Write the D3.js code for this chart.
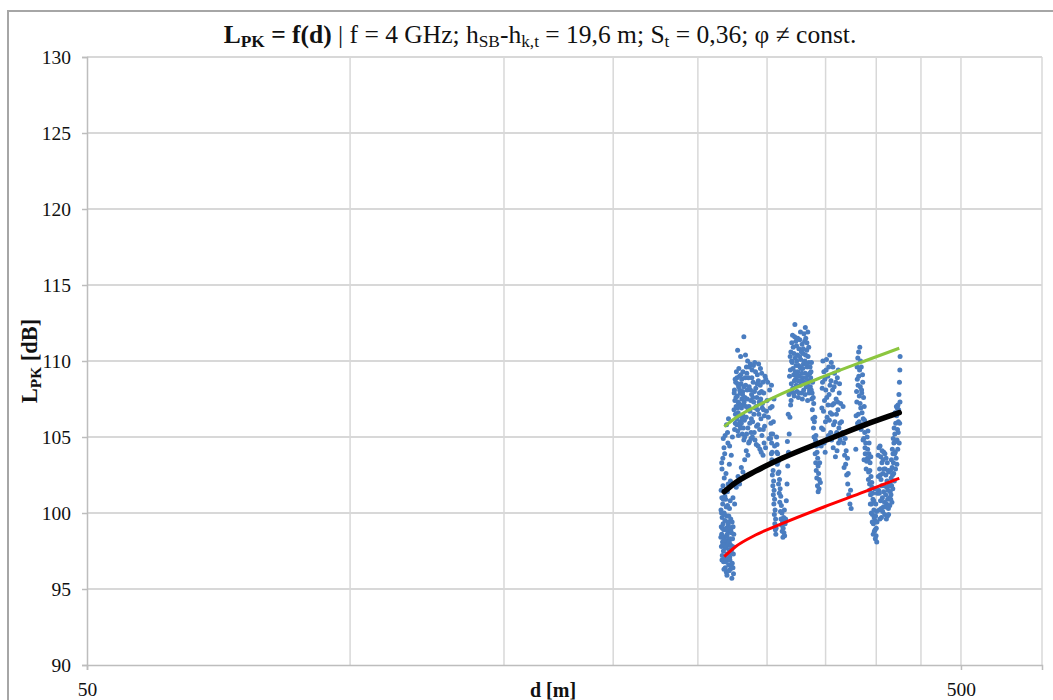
<!DOCTYPE html>
<html>
<head>
<meta charset="utf-8">
<script src="https://cdn.jsdelivr.net/npm/d3@7"></script>
<style>
  html, body { margin: 0; padding: 0; background: #fff; }
  svg { display: block; }
  text { font-family: "Liberation Serif", "Times New Roman", serif; fill: #111; }
</style>
</head>
<body>
<svg id="chart" width="1053" height="700"></svg>
<script>
// Axis settings
const xDomain = [50, 619];
const yDomain = [90, 130];
const yTicks = [90, 95, 100, 105, 110, 115, 120, 125, 130];
const xMajorTicks = [50, 500];
const xMinorTicks = [100, 150, 200, 250, 300, 350, 400, 450];

// Measured path loss samples [d (m), L_PK (dB)]
const measured = [
  // 266-275 m, low stripe
  [265.7,100.2],[265.9,99.1],[266.0,97.8],[266.2,98.6],[266.3,101.0],[266.5,99.7],[266.6,97.2],[266.8,98.1],
  [266.9,100.6],[267.1,101.8],[267.2,99.3],[267.4,97.5],[267.5,96.8],[267.7,98.9],[267.9,100.0],[268.0,102.3],
  [268.2,98.4],[268.3,97.0],[268.5,99.5],[268.7,96.4],[268.8,98.0],[269.0,100.9],[269.2,97.7],[269.3,99.0],
  [269.5,96.1],[269.7,98.5],[269.8,97.3],[270.0,99.8],[270.2,101.4],[270.4,98.2],[270.5,96.9],[270.7,97.9],
  [270.9,99.2],[271.1,96.6],[271.3,98.8],[271.5,97.6],[271.7,100.3],[271.9,97.1],[272.1,98.3],[272.3,96.3],
  [272.6,99.6],[272.8,97.4],[273.1,98.7],[273.4,95.7],[273.7,96.7],[274.0,97.8],[274.3,99.1],[274.6,96.0],
  [265.6,98.4],[265.8,101.5],[266.1,100.0],[266.4,96.9],[266.7,99.0],[267.0,97.9],[267.3,100.9],[267.6,98.2],
  [267.8,96.3],[268.1,99.9],[268.4,101.1],[268.6,97.7],[268.9,96.8],[269.1,98.9],[269.4,100.4],[269.6,97.0],
  [269.9,95.9],[270.1,98.6],[270.3,100.5],[270.6,99.4],[270.8,101.9],[271.0,97.3],[271.2,99.8],[271.4,96.2],
  [271.6,98.1],[271.8,99.0],[272.0,96.9],[272.2,100.8],[272.5,97.9],[272.7,98.9],[273.0,96.5],[273.3,97.6],
  [273.6,99.4],[273.9,98.3],[274.2,96.4],[274.5,97.3],[274.8,98.6],
  [266.4,102.9],[267.0,103.6],[267.8,104.3],[268.6,105.1],[269.6,105.8],[270.6,104.6],[271.6,103.2],
  [266.2,103.3],[267.3,104.9],[268.3,103.9],[269.2,102.6],[270.3,105.3],[271.0,106.2],[271.8,104.4],[272.4,102.1],
  [273.0,103.8],[273.8,105.0],
  // 275-284 m, upper cluster
  [275.0,106.8],[275.3,108.1],[275.6,107.4],[275.9,105.9],[276.2,108.6],[276.5,107.0],[276.8,106.2],[277.1,108.9],
  [277.4,107.7],[277.7,105.4],[278.0,106.6],[278.3,108.3],[278.6,107.2],[278.9,109.0],[279.2,106.0],[279.5,107.9],
  [279.8,105.6],[280.1,108.5],[280.4,106.9],[280.7,107.5],[281.0,105.2],[281.3,108.0],[281.6,106.4],[281.9,107.1],
  [282.2,104.8],[282.6,106.1],[283.0,107.6],
  [275.1,107.9],[275.4,105.5],[275.8,108.8],[276.0,106.5],[276.4,107.6],[276.7,109.3],[277.0,105.8],[277.3,106.9],
  [277.6,108.5],[277.9,107.3],[278.2,105.1],[278.5,109.5],[278.8,106.4],[279.1,108.1],[279.4,105.7],[279.7,107.1],
  [280.0,109.1],[280.3,105.9],[280.6,108.8],[280.9,106.2],[281.2,107.8],[281.5,109.3],[281.8,105.6],[282.1,108.3],
  [282.4,107.3],[282.8,105.0],[283.2,108.9],
  [277.6,110.7],[279.8,110.3],[282.2,111.6],[283.4,110.4],[284.1,109.6],
  [274.2,101.0],[275.4,100.6],[276.6,101.7],[277.9,102.4],[279.0,101.9],[280.3,103.0],[281.5,102.7],[282.8,103.5],
  [284.0,104.1],[285.2,103.8],[286.4,104.7],[287.6,105.3],
  // 283-306 m
  [283.5,108.4],[284.0,106.3],[284.4,109.2],[284.8,107.5],[285.2,105.6],[285.6,108.9],[286.0,107.0],[286.4,109.6],
  [286.8,106.7],[287.2,108.1],[287.6,104.9],[288.0,107.8],[288.4,109.4],[288.8,106.0],[289.2,108.6],[289.6,107.3],
  [290.0,105.3],[290.4,109.9],[290.8,106.9],[291.2,108.2],[291.6,104.5],[292.0,107.6],[292.4,109.1],[292.8,105.8],
  [293.2,108.7],[293.6,106.5],[294.0,107.9],[294.4,104.2],[294.8,109.5],[295.2,106.2],[295.6,108.0],[296.0,105.1],
  [296.4,107.2],[296.8,103.8],[297.2,106.8],[297.6,104.6],[298.0,105.7],
  [283.8,107.0],[284.2,105.2],[284.6,108.1],[285.0,110.0],[285.4,106.8],[285.8,104.6],[286.2,108.3],[286.6,105.9],
  [287.0,109.8],[287.4,107.4],[287.8,106.2],[288.2,108.9],[288.6,105.0],[289.0,107.6],[289.4,109.7],[289.8,106.5],
  [290.2,108.0],[290.6,104.8],[291.0,109.3],[291.4,107.0],[291.8,105.7],[292.2,108.5],[292.6,106.8],[293.0,104.4],
  [293.4,109.8],[293.8,107.3],[294.2,105.5],[294.6,108.4],[295.0,107.5],[295.4,104.0],[295.8,109.2],[296.2,106.9],
  [296.6,108.6],[297.0,105.5],[297.4,107.9],[297.8,106.4],[298.4,109.0],[298.8,104.3],[299.5,106.7],[300.5,108.6],
  [301.5,104.9],[302.5,106.9],[303.5,108.4],[304.5,105.2],[305.5,107.5],[306.0,104.4],
  [299.0,108.8],[300.0,107.4],[301.0,106.3],[302.0,108.1],[303.0,105.9],[304.0,107.0],[305.0,106.0],
  // 303-316 m, descending streams
  [303.2,105.2],[303.6,104.6],[304.0,104.0],[304.4,103.3],[304.8,102.8],[305.2,102.1],[305.6,101.5],[306.0,100.9],
  [306.4,100.2],[306.8,99.6],[307.2,99.0],
  [307.6,105.0],[308.0,104.5],[308.5,103.9],[309.0,103.4],[309.5,102.7],[310.0,102.2],[310.5,101.6],[311.0,101.1],
  [311.5,100.5],[312.0,100.0],[312.5,99.4],[313.0,99.0],[313.6,98.7],[314.2,98.5],
  [302.8,104.9],[303.4,103.9],[303.8,103.5],[304.2,102.5],[304.6,101.8],[305.0,101.2],[305.4,100.6],[305.8,99.9],
  [306.2,99.3],[306.6,98.9],[307.0,98.6],[307.8,104.0],[308.2,103.2],[308.8,102.6],[309.2,101.9],[309.8,101.3],
  [310.2,100.7],[310.8,100.1],[311.2,99.6],[311.8,99.2],[312.2,98.8],[312.8,98.4],[313.4,99.7],[314.0,100.2],
  [314.6,99.3],
  [315.0,99.6],[315.6,100.8],[316.2,101.9],[316.8,103.1],[317.4,104.0],[318.0,105.2],[318.6,106.3],[319.2,107.1],
  [319.8,108.0],
  // 316-336 m, peak cluster
  [319.0,109.4],[319.4,110.6],[319.8,108.5],[320.2,111.2],[320.6,109.9],[321.0,108.2],[321.4,110.9],[321.8,109.1],
  [322.2,107.7],[322.6,111.6],[323.0,110.2],[323.4,108.8],[323.8,109.7],[324.2,111.0],[324.6,108.0],[325.0,110.4],
  [325.4,109.3],[325.8,107.6],[326.2,110.8],[326.6,109.0],[327.0,111.4],[327.4,108.4],[327.8,110.1],[328.2,109.5],
  [328.6,107.9],[329.0,111.1],[329.4,108.9],[329.8,110.5],[330.2,109.8],[330.6,111.8],[331.0,108.6],[331.4,110.0],
  [331.8,109.2],[332.2,111.5],[332.6,108.3],[333.0,110.7],[333.4,109.6],[333.8,107.4],[334.2,110.3],[334.6,108.7],
  [335.0,109.9],[335.5,108.1],
  [316.5,104.7],[317.2,106.5],[317.8,107.8],[318.3,109.0],[318.8,110.3],[319.6,107.4],[320.0,110.0],[320.4,108.0],
  [320.8,111.7],[321.2,109.5],[321.6,107.9],[322.0,110.5],[322.4,108.7],[323.2,109.3],[323.6,111.3],[324.0,108.4],
  [324.4,110.0],[324.8,109.0],[325.2,111.5],[325.6,108.7],[326.0,109.7],[326.4,107.9],[326.8,110.3],[327.2,109.6],
  [327.6,111.9],[328.0,108.7],[328.4,110.6],[328.8,109.2],[329.2,107.5],[329.6,109.5],[330.0,110.8],[330.4,108.1],
  [330.8,109.9],[331.2,111.3],[331.6,107.8],[332.0,110.4],[332.4,108.9],[332.8,109.8],[333.2,111.2],[333.6,108.5],
  [334.4,109.1],[334.8,110.9],[335.2,107.9],[335.8,109.2],
  [322.8,112.4],[331.8,112.2],[334.0,111.9],
  // 336-346 m, descending
  [336.0,109.6],[336.5,108.9],[337.0,108.1],[337.5,107.5],[338.0,106.8],[338.5,106.2],[339.0,105.6],[339.5,105.0],
  [340.0,104.5],[340.5,103.9],[341.0,103.3],[341.5,102.8],[342.0,102.3],[342.6,101.8],[343.2,101.4],
  [337.2,109.9],[338.2,108.6],[339.2,107.2],[340.2,106.3],[341.2,105.1],[342.2,104.0],[343.2,103.1],[344.2,102.2],
  [336.2,108.3],[336.8,109.3],[337.8,107.9],[338.8,107.6],[339.8,106.0],[340.8,104.8],[341.8,104.4],[342.8,103.6],
  [343.6,102.6],[344.0,101.6],[344.6,103.3],[345.2,102.0],
  // 346-364 m
  [346.0,104.4],[346.6,106.9],[347.2,108.6],[347.8,105.5],[348.4,109.3],[349.0,107.4],[349.6,104.0],[350.2,108.1],
  [350.8,110.1],[351.4,106.3],[352.0,109.0],[352.6,105.1],[353.2,107.8],[353.8,110.4],[354.4,106.6],[355.0,108.7],
  [355.6,104.8],[356.2,107.1],[356.8,109.6],[357.4,105.8],[358.0,108.3],[358.6,106.0],[359.2,103.7],[359.8,107.5],
  [360.4,105.3],[361.0,108.9],[361.6,106.8],[362.2,104.6],[362.8,107.9],[363.4,105.9],
  [346.3,105.6],[346.9,108.2],[347.5,110.0],[348.1,106.7],[348.7,104.6],[349.3,108.8],[349.9,106.0],[350.5,109.4],
  [351.1,107.6],[351.7,104.9],[352.3,107.1],[352.9,109.6],[353.5,106.1],[354.1,108.4],[354.7,105.3],[355.3,109.9],
  [355.9,106.5],[356.5,108.1],[357.1,104.3],[357.7,107.2],[358.3,109.2],[358.9,105.1],[359.5,108.6],[360.1,106.5],
  [360.7,104.1],[361.3,107.3],[361.9,109.4],[362.5,105.6],[363.1,108.5],[363.7,104.8],[364.2,107.2],
  // 365-375 m, descending
  [365.0,106.0],[366.0,105.3],[367.0,104.6],[368.0,103.8],[369.0,103.2],[370.0,102.5],[371.0,101.9],[372.0,101.2],
  [373.2,100.6],[374.4,100.3],[366.5,107.0],[368.6,104.9],[370.8,103.6],
  [365.5,105.1],[367.5,103.0],[369.5,104.1],[371.5,102.6],[373.8,101.5],
  // 379-390 m
  [379.0,104.2],[379.5,105.6],[380.0,107.3],[380.5,108.8],[381.0,110.2],[381.5,106.5],[382.0,109.0],[382.5,107.7],
  [383.0,110.9],[383.5,108.3],[384.0,106.9],[384.5,109.6],[385.0,107.9],[385.5,105.8],[386.0,108.6],[386.5,106.2],
  [387.0,104.9],[387.5,107.0],[388.0,105.3],[388.5,103.9],[389.0,104.6],[389.5,102.9],[390.0,103.4],
  [379.3,106.4],[379.8,108.0],[380.3,109.6],[380.8,105.9],[381.3,108.4],[381.8,110.6],[382.3,106.0],[382.8,109.4],
  [383.3,107.2],[383.8,110.0],[384.3,105.5],[384.8,108.1],[385.3,106.6],[385.8,109.1],[386.3,104.8],[386.8,107.6],
  [387.3,103.5],[387.8,106.1],[388.3,104.3],[388.8,105.8],
  // 390-401 m, descending
  [390.5,105.0],[391.0,104.2],[391.5,103.5],[392.0,102.7],[392.5,104.6],[393.0,101.9],[393.5,103.3],[394.0,101.2],
  [394.5,102.4],[395.0,100.6],[395.5,101.7],[396.0,99.9],[396.5,100.9],[397.0,99.3],[397.5,100.2],[398.0,98.8],
  [398.5,99.5],[399.0,98.3],[399.5,100.6],[400.0,99.0],[400.5,98.1],[401.0,101.3],
  [390.8,103.6],[391.3,105.4],[391.8,102.2],[392.3,103.9],[392.8,101.5],[393.3,102.8],[393.8,100.6],[394.3,103.7],
  [394.8,100.0],[395.3,102.0],[395.8,99.4],[396.3,101.3],[396.8,98.6],[397.3,100.8],[397.8,99.7],[398.3,101.6],
  [398.8,98.9],[399.3,99.8],[399.8,98.5],[400.3,100.1],[400.8,99.4],
  // 402-414 m
  [402.0,103.8],[402.5,101.5],[403.0,100.2],[403.5,102.9],[404.0,104.4],[404.5,100.8],[405.0,102.2],[405.5,99.7],
  [406.0,103.3],[406.5,101.0],[407.0,102.6],[407.5,100.4],[408.0,104.0],[408.5,101.8],[409.0,99.9],[409.5,102.9],
  [410.0,101.2],[410.5,103.6],[411.0,100.6],[411.5,102.1],[412.0,99.8],[412.5,101.5],[413.0,100.3],[413.5,102.7],
  [414.0,101.0],
  [402.2,102.4],[402.8,104.3],[403.2,101.3],[403.8,99.6],[404.2,102.5],[404.8,103.7],[405.2,100.3],[405.8,101.8],
  [406.2,104.1],[406.8,100.1],[407.2,103.5],[407.8,101.4],[408.2,102.9],[408.8,100.7],[409.2,103.9],[409.8,100.4],
  [410.2,102.5],[410.8,99.6],[411.2,101.7],[411.8,103.3],[412.2,100.9],[412.8,102.8],[413.2,99.9],[413.8,101.8],
  // 414-426 m, rising
  [414.5,100.5],[415.0,101.4],[415.5,100.9],[416.0,102.3],[416.5,101.8],[417.0,103.0],[417.5,102.5],[418.0,103.9],
  [418.5,103.3],[419.0,104.6],[419.5,102.1],[420.0,105.2],[420.5,104.0],[421.0,105.9],[421.5,103.6],[422.0,106.4],
  [422.5,104.8],[423.0,105.5],[423.5,107.1],[424.0,106.0],[424.6,107.8],[425.2,108.6],[425.6,109.4],[425.9,110.3],
  [414.8,101.9],[415.3,102.8],[415.8,101.2],[416.3,103.5],[416.8,100.7],[417.3,104.2],[417.8,101.6],[418.3,104.9],
  [418.8,102.6],[419.3,105.6],[419.8,103.9],[420.3,106.6],[420.8,102.9],[421.3,104.7],[421.8,107.0],[422.3,103.2],
  [422.8,106.9],[423.3,104.2],[423.8,105.3],[424.3,106.8],[424.9,104.6],[425.4,105.9],[425.8,107.3]
];

// Fitted curves: mean and mean ± standard deviation
const fitD   = [268, 276, 291, 312, 349, 388, 425];
const meanL  = [101.4, 101.99, 102.75, 103.6, 104.75, 105.8, 106.6];
const upperL = [105.68, 106.25, 107.0, 107.85, 109.0, 110.0, 110.84];
const lowerL = [97.13, 97.78, 98.55, 99.3, 100.41, 101.4, 102.28];

const svg = d3.select("#chart");
const plot = { left: 87, right: 1042, top: 57, bottom: 665 };

const x = d3.scaleLog().base(10).domain(xDomain).range([plot.left, plot.right]);
const y = d3.scaleLinear().domain(yDomain).range([plot.bottom, plot.top]);

// Outer chart frame
svg.append("rect")
  .attr("x", 8).attr("y", 11).attr("width", 1070).attr("height", 720)
  .attr("fill", "none").attr("stroke", "#a6a6a6").attr("stroke-width", 2);

// Gridlines
const grid = svg.append("g");
grid.selectAll("line.h").data(yTicks.slice(1)).join("line")
  .attr("x1", plot.left).attr("x2", plot.right)
  .attr("y1", d => y(d)).attr("y2", d => y(d))
  .attr("stroke", "#cbcbcb").attr("stroke-width", 1.5);
grid.selectAll("line.v").data(xMinorTicks.concat([500])).join("line")
  .attr("y1", plot.top).attr("y2", plot.bottom)
  .attr("x1", d => x(d)).attr("x2", d => x(d))
  .attr("stroke", "#d8d8d8").attr("stroke-width", 1.5);
// right edge of plot area
svg.append("line")
  .attr("x1", plot.right).attr("x2", plot.right).attr("y1", plot.top).attr("y2", plot.bottom)
  .attr("stroke", "#d8d8d8").attr("stroke-width", 1.5);

// Axes
const yAxis = d3.axisLeft(y).tickValues(yTicks).tickSize(5).tickPadding(11).tickFormat(d3.format("d"));
const gy = svg.append("g").attr("transform", `translate(${plot.left},0)`).call(yAxis);
gy.select(".domain").attr("stroke", "#bdbdbd").attr("stroke-width", 1.5);
gy.selectAll(".tick line").attr("stroke", "#bdbdbd").attr("stroke-width", 1.5);
gy.selectAll(".tick text").attr("font-family", "Liberation Serif").attr("font-size", 19.5).attr("fill", "#111");

const xAxis = d3.axisBottom(x).tickValues(xMajorTicks).tickSize(5).tickPadding(12).tickFormat(d3.format("d"));
const gx = svg.append("g").attr("transform", `translate(0,${plot.bottom})`).call(xAxis);
gx.select(".domain").attr("stroke", "#bdbdbd").attr("stroke-width", 1.5);
gx.selectAll(".tick line").attr("stroke", "#bdbdbd").attr("stroke-width", 1.5);
gx.selectAll(".tick text").attr("font-family", "Liberation Serif").attr("font-size", 19.5).attr("fill", "#111");

// Measured samples
svg.append("g").selectAll("circle").data(measured).join("circle")
  .attr("cx", d => x(d[0])).attr("cy", d => y(d[1])).attr("r", 2.5)
  .attr("fill", "#4a7dc0");

// Fitted curves
const curve = ls => d3.line().x((d, i) => x(fitD[i])).y(d => y(d)).curve(d3.curveMonotoneX)(ls);
svg.append("path").attr("d", curve(upperL)).attr("fill", "none").attr("stroke", "#8cc63f").attr("stroke-width", 3);
svg.append("path").attr("d", curve(lowerL)).attr("fill", "none").attr("stroke", "#ff0000").attr("stroke-width", 3);
svg.append("path").attr("d", curve(meanL)).attr("fill", "none").attr("stroke", "#000").attr("stroke-width", 5.5)
  .attr("stroke-linecap", "round");

// Text helper for runs with subscripts
function richText(sel, parts) {
  parts.forEach(p => {
    const t = sel.append("tspan").text(p.t);
    if (p.b) t.attr("font-weight", "bold");
    if (p.sub) t.attr("font-size", "0.68em").attr("baseline-shift", "-25%");
  });
}

// Title
const title = svg.append("text").attr("x", 540).attr("y", 43)
  .attr("text-anchor", "middle").attr("font-size", 25.5);
richText(title, [
  { t: "L", b: true }, { t: "PK", b: true, sub: true }, { t: " = f(d)", b: true },
  { t: " | f = 4 GHz; h" }, { t: "SB", sub: true }, { t: "-h" }, { t: "k,t", sub: true },
  { t: " = 19,6 m; S" }, { t: "t", sub: true }, { t: " = 0,36; φ ≠ const." }
]);

// Axis titles
const yTitle = svg.append("text")
  .attr("transform", `translate(37,${(plot.top + plot.bottom) / 2}) rotate(-90)`)
  .attr("text-anchor", "middle").attr("font-size", 22.5).attr("font-weight", "bold");
richText(yTitle, [{ t: "L", b: true }, { t: "PK", b: true, sub: true }, { t: " [dB]", b: true }]);

svg.append("text").attr("x", 553).attr("y", 697).attr("text-anchor", "middle")
  .attr("font-size", 20).attr("font-weight", "bold").text("d [m]");
</script>
</body>
</html>
